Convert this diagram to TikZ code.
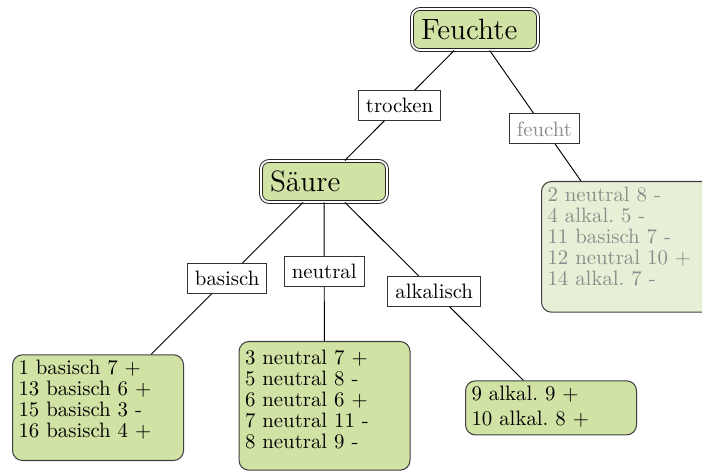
\documentclass[tikz,border=0pt]{standalone}
\def\pxu{0.48pt}
\newcommand\leaffont{\fontsize{10}{10.08}\selectfont\frenchspacing}
\newcommand\bigfont{\fontsize{14.1}{16}\selectfont}
\definecolor{leafgreen}{RGB}{208,226,164}
\definecolor{fadegreen}{RGB}{231,240,214}
\definecolor{fadetext}{RGB}{140,140,140}
\tikzset{
  bignode/.style={draw=black!85, line width=0.45pt, double=white, double distance=0.9pt,
    rounded corners=8*\pxu, fill=leafgreen, text width=108*\pxu, align=left,
    minimum height=41*\pxu, inner xsep=9*\pxu, inner ysep=0pt, font=\bigfont},
  leaf/.style={draw=black!75, line width=0.5pt, rounded corners=10*\pxu, fill=leafgreen,
    text width=159*\pxu, inner xsep=6*\pxu, inner ysep=5*\pxu, align=left,
    font=\leaffont, anchor=north west},
  lab/.style={draw=black!80, line width=0.5pt, fill=white, inner sep=7.5*\pxu, font=\leaffont},
  edge/.style={draw=black, line width=0.45pt}
}
\begin{document}
\begin{tikzpicture}[x=0.48pt, y=-0.48pt]
\useasboundingbox (0,0) rectangle (702,471);
\node[bignode] (F) at (475,29.5) {Feuchte};
\node[bignode] (S) at (324,181.5) {Säure};
\node[leaf, text height=14.7*\pxu, text depth=81*\pxu] (L1) at (12,354.3)
  {1 basisch 7 +\\13 basisch 6 +\\15 basisch 3 -\\16 basisch 4 +};
\node[leaf, text height=18*\pxu, text depth=100.7*\pxu] (L2) at (238.5,341)
  {3 neutral 7 +\\5 neutral 8 -\\6 neutral 6 +\\7 neutral 11 -\\8 neutral 9 -};
\node[leaf, text height=14.7*\pxu, text depth=29.4*\pxu] (L3) at (465,380.3)
  {9 alkal. 9 +\\[1.92pt]10 alkal. 8 +};
\node[leaf, fill=fadegreen, text=fadetext, text height=14.7*\pxu, text depth=106*\pxu] (R) at (541,181)
  {2 neutral 8 -\\4 alkal. 5 -\\11 basisch 7 -\\12 neutral 10 +\\14 alkal. 7 -};
\draw[edge] (F) -- node[lab] (lt) {trocken} (S);
\draw[edge] (F) -- node[lab, pos=0.6, text=fadetext] (lf) {feucht} (R);
\draw[edge] (S) -- node[lab] (lb) {basisch} (L1);
\draw[edge] (S) -- node[lab] (ln) {neutral} (L2);
\draw[edge] (S) -- node[lab] (la) {alkalisch} (L3);
\end{tikzpicture}
\end{document}
